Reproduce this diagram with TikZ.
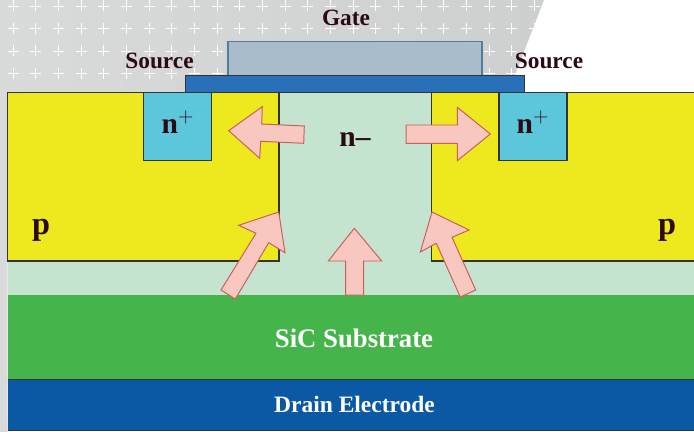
\documentclass[tikz,border=0pt]{standalone}
\usepackage{fontspec}
\setmainfont{Liberation Serif}
\usetikzlibrary{calc}

\definecolor{greyl}{HTML}{D9DADA}
\definecolor{greyr}{HTML}{CECFCF}
\definecolor{drift}{HTML}{C5E4D0}
\definecolor{pwell}{HTML}{EEE81E}
\definecolor{nplus}{HTML}{5CC6DA}
\definecolor{subst}{HTML}{45B44A}
\definecolor{drain}{HTML}{0B58A4}
\definecolor{oxide}{HTML}{2A70B9}
\definecolor{poly}{HTML}{A9BCCB}
\definecolor{polyline}{HTML}{4F7F9C}
\definecolor{flow}{HTML}{F8C8C0}
\definecolor{flowline}{HTML}{C8605A}
\definecolor{ink}{HTML}{2A0A14}

\tikzset{
	layer/.style={draw=black!80, line width=0.8pt},
	flowarrow/.style={fill=flow, draw=flowline, line width=0.7pt, line join=miter},
	label/.style={font=\bfseries\fontsize{16.6pt}{16.6pt}\selectfont, text=ink, inner sep=0pt},
	doping/.style={font=\bfseries\fontsize{21pt}{21pt}\selectfont, text=ink, inner sep=0pt},
	welltype/.style={font=\bfseries\fontsize{23pt}{23pt}\selectfont, text=ink, inner sep=0pt},
	layername/.style={font=\bfseries\fontsize{16.7pt}{16.7pt}\selectfont, text=white, inner sep=0pt},
}

\begin{document}
\begin{tikzpicture}[x=0.025cm, y=-0.025cm]
		\useasboundingbox (0, 0) rectangle (694, 432);

		% backdrop
		\shade[left color=greyl, right color=greyr] (0, 0) -- (544, 0) -- (515, 75) -- (515, 93) -- (7.5, 93) -- (7.5, 432) -- (0, 432) -- cycle;
		\begin{scope}
			\clip (0, 0) -- (544, 0) -- (515, 75) -- (515, 93) -- (0, 93) -- cycle;
			\foreach \row in {6, 28.5, 51, 73.5} {
				\foreach \col in {0, ..., 23} {
					\draw[white, line width=0.7pt] ($(13, \row) + (22.67*\col, 0)$) +(-5.5, 0) -- +(5.5, 0) +(0, -5.5) -- +(0, 5.5);
				}
			}
		\end{scope}

		% layers
		\fill[drift] (7.5, 92.7) rectangle (694, 295);
		\fill[subst] (7.5, 295) rectangle (694, 379.5);
		\fill[drain] (7.5, 379.5) rectangle (694, 430.7);
		\draw[layer] (7.5, 379.5) -- (694, 379.5);
		\draw[layer] (7.5, 430.7) -- (694, 430.7);
		\draw[layer, fill=pwell] (694, 92.7) -- (431.7, 92.7) -- (431.7, 261) -- (694, 261);
		\draw[layer, fill=pwell] (7.5, 92.7) rectangle (279, 261);
		\draw[layer, fill=nplus] (143.5, 92.7) rectangle (211.5, 160.5);
		\draw[layer, fill=nplus] (499, 92.7) rectangle (567, 160.5);

		% gate stack
		\draw[polyline, line width=0.8pt, fill=poly] (228, 41.7) rectangle (482, 75.5);
		\draw[layer, fill=oxide] (185.5, 75.5) rectangle (524.7, 92.7);

		% current flow
		\draw[flowarrow] (228.7, 130.7) -- (262.3, 106.7) -- (261.7, 124) -- (304.3, 126) -- (303.7, 143.3) -- (260.7, 141.3) -- (259.7, 158.3) -- cycle;
		\draw[flowarrow] (490.3, 134) -- (457.3, 107.3) -- (457.3, 125) -- (406, 125) -- (406, 143.3) -- (457.3, 143.3) -- (457.3, 160.7) -- cycle;
		\draw[flowarrow] (278.7, 212) -- (238.7, 225.3) -- (256, 233.3) -- (221, 290) -- (235.3, 299) -- (268.7, 242.7) -- (285, 252.7) -- cycle;
		\draw[flowarrow] (354.3, 228.3) -- (328.3, 261) -- (345.7, 261) -- (345.7, 295) -- (363.7, 295) -- (363.7, 261) -- (381.7, 261) -- cycle;
		\draw[flowarrow] (432, 212) -- (469, 230) -- (452, 237.3) -- (475.7, 290) -- (460.3, 297) -- (436.3, 243.3) -- (420.3, 252) -- cycle;

		% labels
		\node[label] (gate) at (346, 18) {Gate};
		\node[label] (srcl) at (159.5, 61) {Source};
		\node[label] (srcr) at (549, 61) {Source};
		\node[doping] (nl) at (178, 122) {n$^{+}$};
		\node[doping] (nr) at (533, 122) {n$^{+}$};
		\node[doping] (nm) at (355, 140) {n–};
		\node[welltype] (pl) at (41, 230) {p};
		\node[welltype] (pr) at (667, 230) {p};
		\node[layername, font=\bfseries\fontsize{19pt}{19pt}\selectfont] (sic) at (354, 338) {SiC Substrate};
		\node[layername] (electrode) at (354.5, 404) {Drain Electrode};
\end{tikzpicture}
\end{document}
